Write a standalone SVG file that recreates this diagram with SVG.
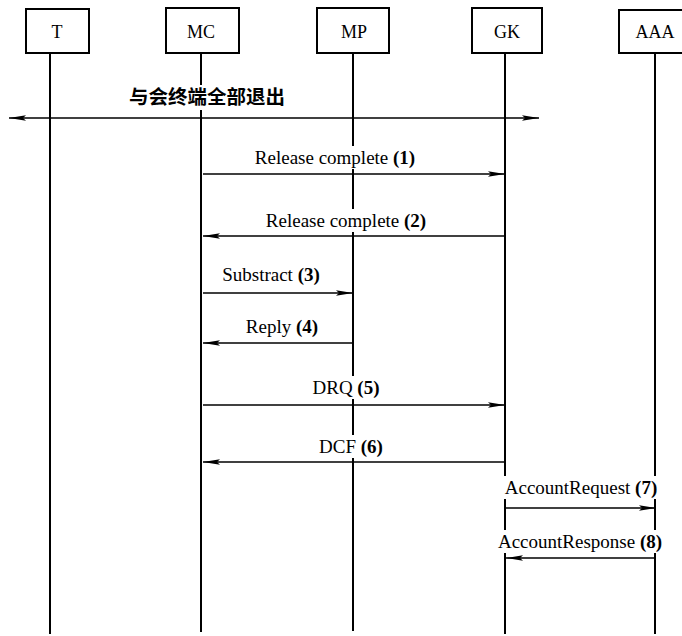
<svg xmlns="http://www.w3.org/2000/svg" width="682" height="636" viewBox="0 0 682 636">
<defs>
<style>
.box{fill:#fff;stroke:#000;stroke-width:2}
.life{stroke:#000;stroke-width:2;fill:none}
.msg{stroke:#000;stroke-width:1.3;fill:none}
.name{font-family:"Liberation Serif","Times New Roman",serif;font-size:18px;text-anchor:middle;fill:#000}
.lbl{font-family:"Liberation Serif","Times New Roman",serif;font-size:19px;text-anchor:middle;fill:#000}
.num{font-weight:bold}
.cn{font-family:"Noto Sans CJK SC","Noto Sans",sans-serif;font-size:19.5px;font-weight:bold;text-anchor:middle;fill:#000}
.bg{fill:#fff}
</style>
<marker id="ah" markerWidth="18" markerHeight="8" refX="17" refY="4" orient="auto-start-reverse" markerUnits="userSpaceOnUse">
<path d="M0,1.2 L17,4 L0,6.8 L3,4 z" fill="#000"/>
</marker>
</defs>
<rect width="682" height="636" fill="#fff"/>

<g id="T">
<line class="life" x1="50" y1="53" x2="50" y2="634"/>
<rect class="box" x="26" y="9" width="63" height="44"/>
<text class="name" x="57" y="38">T</text>
</g>
<g id="MC">
<line class="life" x1="201" y1="53" x2="201" y2="632"/>
<rect class="box" x="166" y="8" width="73" height="45"/>
<text class="name" x="201" y="38">MC</text>
</g>
<g id="MP">
<line class="life" x1="353" y1="53" x2="353" y2="631"/>
<rect class="box" x="317" y="8" width="72" height="45"/>
<text class="name" x="354" y="38">MP</text>
</g>
<g id="GK">
<line class="life" x1="505" y1="53" x2="505" y2="634"/>
<rect class="box" x="472" y="8" width="70" height="45"/>
<text class="name" x="507" y="38">GK</text>
</g>
<g id="AAA">
<line class="life" x1="655" y1="53" x2="655" y2="634"/>
<rect class="box" x="619" y="10" width="72" height="43"/>
<text class="name" x="655" y="38">AAA</text>
</g>

<g id="connectors">
<line class="msg" x1="9" y1="118" x2="539" y2="118" marker-start="url(#ah)" marker-end="url(#ah)"/>
<rect class="bg" x="127" y="85" width="160" height="25"/>
<text class="cn" x="207" y="104">与会终端全部退出</text>

<line class="msg" x1="203" y1="174" x2="505" y2="174" marker-end="url(#ah)"/>
<rect class="bg" x="250" y="146" width="171" height="23"/>
<text class="lbl" x="335" y="164">Release complete <tspan class="num">(1)</tspan></text>

<line class="msg" x1="505" y1="236" x2="203" y2="236" marker-end="url(#ah)"/>
<rect class="bg" x="261" y="209" width="171" height="23"/>
<text class="lbl" x="346" y="227">Release complete <tspan class="num">(2)</tspan></text>

<line class="msg" x1="203" y1="293" x2="353" y2="293" marker-end="url(#ah)"/>
<text class="lbl" x="271" y="281">Substract <tspan class="num">(3)</tspan></text>

<line class="msg" x1="353" y1="343" x2="203" y2="343" marker-end="url(#ah)"/>
<text class="lbl" x="282" y="333">Reply <tspan class="num">(4)</tspan></text>

<line class="msg" x1="203" y1="405" x2="505" y2="405" marker-end="url(#ah)"/>
<rect class="bg" x="309" y="376" width="74" height="23"/>
<text class="lbl" x="346" y="394">DRQ <tspan class="num">(5)</tspan></text>

<line class="msg" x1="505" y1="462" x2="203" y2="462" marker-end="url(#ah)"/>
<rect class="bg" x="316" y="435" width="70" height="23"/>
<text class="lbl" x="351" y="453">DCF <tspan class="num">(6)</tspan></text>

<line class="msg" x1="506" y1="508" x2="656" y2="508" marker-end="url(#ah)"/>
<rect class="bg" x="500" y="476" width="162" height="23"/>
<text class="lbl" x="581" y="494">AccountRequest <tspan class="num">(7)</tspan></text>

<line class="msg" x1="656" y1="558" x2="506" y2="558" marker-end="url(#ah)"/>
<rect class="bg" x="494" y="530" width="173" height="23"/>
<text class="lbl" x="580" y="548">AccountResponse <tspan class="num">(8)</tspan></text>
</g>
</svg>
